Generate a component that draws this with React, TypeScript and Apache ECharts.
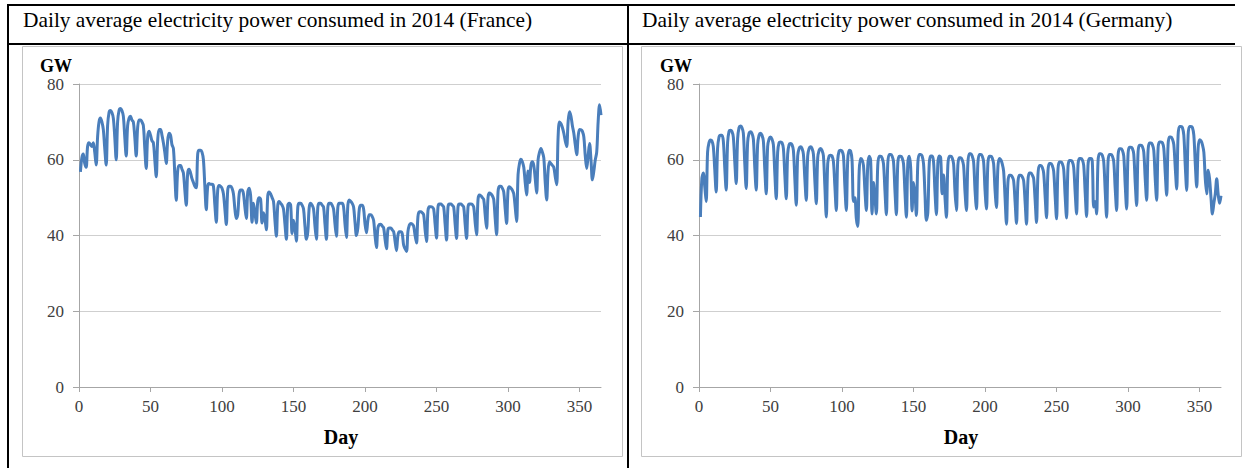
import React, { useEffect, useRef } from "react";
import * as echarts from "echarts";

const FONT = '"Liberation Serif","Times New Roman",serif';

const titles = [
  "Daily average electricity power consumed in 2014 (France)",
  "Daily average electricity power consumed in 2014 (Germany)",
];
const yAxisName = "GW";
const xAxisName = "Day";
const xTicks = [0, 50, 100, 150, 200, 250, 300, 350];
const yTicks = [0, 20, 40, 60, 80];

// Daily values (GW), day 1 = Wed 1 Jan 2014; grouped as Mon..Sun weeks after the first 5 days
const franceValues = [
  56.8, 60.5, 61.5, 59, 58,
  63.5, 64.5, 64, 63.5, 64.5, 62, 58.6,
  66, 70, 71, 70, 68, 63, 58.6,
  69, 72.5, 73, 72.5, 71, 66, 60,
  70, 73, 73.5, 73, 71.5, 66, 61,
  69, 71, 71.5, 70.5, 70, 66, 61,
  68.5, 70.5, 70.5, 70, 69, 63, 57.7,
  66, 67.5, 66.5, 65, 64.5, 60, 55.5,
  65, 68, 68, 66.5, 64.5, 62, 59,
  65, 67, 66.5, 64, 63, 56, 49.3,
  57, 58.5, 58.5, 57.5, 56.5, 52, 48,
  56.5, 57.5, 56.5, 55, 54, 53, 52.6,
  61.5, 62.5, 62.5, 62, 60, 53, 46.8,
  53, 53.7, 53.5, 53.5, 53, 48, 43.5,
  52, 53.2, 53, 52.5, 51, 47, 42.9,
  52, 53, 53, 52.5, 51, 47, 44.5,
  45.5, 51, 52, 52, 51, 47.5, 44.5,
  51.5, 52.5, 50.5, 43.5, 48.5, 46, 43.3,
  49, 50, 49.5, 43.3, 46, 44.5, 41.5,
  50.5, 51.5, 51, 50, 49, 44, 39.8,
  48, 49, 48.5, 48, 47, 43, 39,
  48, 48.5, 48, 40.5, 44, 42, 38.5,
  47.5, 48.5, 48.5, 48, 47, 42.5, 39,
  41, 47.5, 48.5, 48, 47, 42.5, 39,
  47.5, 48.5, 48.5, 48, 47.5, 43, 39,
  47.5, 48.5, 48.5, 48, 47, 43, 39.8,
  47.5, 48.5, 48.5, 48.5, 47.5, 43, 39.5,
  48, 49.4, 49, 48.5, 47.5, 43.5, 40,
  42, 47, 48, 48, 47, 43, 40.7,
  44, 45.5, 45.5, 45, 44, 40, 36.8,
  42, 42.9, 43, 42.5, 42, 39, 36.5,
  41.5, 42, 42, 41.5, 41, 38.5, 36,
  40, 41, 41, 40.5, 37.5, 36.5, 35.8,
  41, 42.8, 43.2, 43, 42.5, 40, 38,
  45, 46.3, 46.3, 46, 45.5, 41.5, 38.4,
  46.5, 47.6, 47.6, 47.5, 47, 43, 39.3,
  47.5, 48.3, 48.3, 48, 47.5, 43, 38.8,
  47.5, 48.3, 48.3, 48, 47.5, 43, 39.2,
  47.5, 48.3, 48.3, 48, 47.5, 43, 39.2,
  47.5, 48.3, 48.3, 48.2, 47.5, 43.5, 40.2,
  49.5, 50.7, 50.5, 50, 49.5, 45.5, 41.9,
  50, 51.2, 51, 50.5, 49.5, 44.5, 40.2,
  51.5, 53, 53, 52.5, 51.5, 47, 43.2,
  52, 52.9, 52.5, 52, 51, 47.5, 43.7,
  56, 59, 60.1, 59.5, 58, 54, 50.7,
  57, 54, 58.5, 59.5, 58.5, 55, 51.2,
  60, 62, 63, 62, 60.5, 54, 49.4,
  57, 59.5, 59, 58.5, 58, 55.5, 53.4,
  66, 70, 69.5, 68.5, 67, 65, 63.5,
  70, 72.7, 71.5, 69, 67, 64, 61.3,
  66, 68, 67.9, 67.5, 66, 61, 57.7,
  61, 64.3, 60, 54.7, 57, 60, 62,
  70, 74.5, 71.8,
];

const germanyValues = [
  44.9, 55, 56.5, 53, 49,
  62, 64.5, 65.2, 65, 63.5, 57.5, 51.5,
  63, 66, 66.5, 66.5, 65, 58, 52,
  64.5, 67.5, 67.8, 67.5, 66, 59.5, 53.7,
  65.5, 68.5, 68.9, 68.5, 67, 59, 52.4,
  64.5, 67, 67.4, 67, 65.5, 58, 52,
  64, 66.5, 67, 66.5, 65, 57.5, 51,
  63.5, 65.5, 66, 65.5, 64, 56.5, 49.7,
  62, 64.5, 64.7, 64.5, 63, 56, 49.7,
  61.5, 64, 64.3, 64, 62.5, 55, 48,
  61, 63, 63.4, 63, 61.5, 55, 49.3,
  61, 63, 63.4, 63, 61.5, 54.5, 48.4,
  60.5, 62.5, 63, 62.5, 61, 53, 44.9,
  59, 61, 61.2, 61, 59.5, 53, 46.6,
  60, 62.3, 62.5, 62.3, 61, 53, 46.6,
  60, 62.5, 62.3, 60, 49, 50, 44.5,
  42.4, 57, 60.3, 60, 58.5, 52, 46.6,
  58.5, 60.9, 60, 45.7, 54, 50, 45.7,
  58.5, 60.9, 60.9, 60.5, 59, 52, 45.5,
  59, 61.4, 61.4, 61, 59.5, 52, 45.5,
  59, 60.9, 60.9, 60.5, 59, 51.5, 44.8,
  59, 60.9, 58, 46.5, 54, 51, 45.3,
  59, 61.4, 61.4, 61, 59, 51, 44,
  46, 59, 61, 61, 59.5, 51.5, 45.5,
  59, 61, 60.5, 51, 56, 50, 44.8,
  58.5, 60.9, 60.9, 60.5, 59, 51.5, 46.6,
  58.5, 60.5, 60.5, 60, 58.5, 51.5, 46.6,
  59, 61.6, 61.6, 61, 59.5, 52, 47,
  59, 61.4, 61.4, 61, 59.5, 52, 47,
  59, 60.9, 60.9, 60.5, 59, 52, 47.4,
  58, 60.3, 60, 59, 57, 50, 43,
  54, 55.9, 55.9, 55.5, 54.5, 49, 43.2,
  54, 55.9, 55.9, 55.5, 54.5, 49, 43,
  54.5, 56.5, 56.5, 56, 55, 49.5, 43.4,
  56, 58.5, 58.5, 58, 56.5, 50.5, 44.7,
  57, 59, 59, 58.5, 57, 50.5, 44.4,
  57.5, 59.4, 59.4, 59, 57.5, 50.5, 44.6,
  58, 59.8, 59.8, 59.5, 58, 51.5, 45.7,
  58.5, 60.3, 60.3, 60, 58.5, 51.5, 45,
  58.5, 60.3, 60.3, 59.5, 47.5, 49, 45.7,
  59.5, 61.6, 61.6, 61.2, 59.5, 52, 44.8,
  59.5, 61.4, 61.4, 61, 59.5, 52.5, 46.6,
  61, 62.9, 62.9, 62.5, 61, 53.5, 47,
  61.5, 63.3, 63.3, 63, 61.5, 54, 47.9,
  62, 63.8, 63.8, 63.5, 62, 55, 49.3,
  62.5, 64.4, 64.4, 64, 62.5, 55, 49.3,
  63, 64.7, 64.7, 64.5, 63, 56.5, 50.6,
  64, 66, 66, 65.5, 64, 58, 52.3,
  66.5, 68.8, 68.8, 68.5, 66.5, 58.5, 51.9,
  66.5, 68.8, 68.8, 68.5, 66.5, 59, 52.8,
  63, 65.3, 65, 64, 62, 55, 51,
  57.2, 55, 50, 45.7, 48.5, 51, 55,
  51, 48.5, 50.5,
];

const LINE_COLOR = "#4a7ebb";
const AXIS_COLOR = "#a6a6a6";
const GRID_COLOR = "#cfcfcf";
const LABEL_COLOR = "#404040";

export default function App() {
  const ref = useRef<HTMLDivElement>(null);
  useEffect(() => {
    if (!ref.current) return;
    const chart = echarts.init(ref.current, undefined, { renderer: "svg" });
    const panels = [
      { left: 79, frameX: 22.5, titleX: 23, values: franceValues },
      { left: 699, frameX: 641.5, titleX: 642, values: germanyValues },
    ];
    const plotW = 522;
    const graphic: any[] = [];
    const black = "#000";
    graphic.push(
      { type: "rect", shape: { x: 7, y: 4, width: 1228, height: 2 }, style: { fill: black }, silent: true },
      { type: "rect", shape: { x: 7, y: 43, width: 1228, height: 2 }, style: { fill: black }, silent: true },
      { type: "rect", shape: { x: 7, y: 4, width: 2, height: 464 }, style: { fill: black }, silent: true },
      { type: "rect", shape: { x: 627, y: 4, width: 2, height: 464 }, style: { fill: black }, silent: true }
    );
    panels.forEach((p, i) => {
      graphic.push(
        {
          type: "rect",
          shape: { x: p.frameX, y: 46.5, width: 600, height: 410 },
          style: { fill: "#fff", stroke: "#c4c4c4", lineWidth: 1 },
          z: -10,
          silent: true,
        },
        {
          type: "text",
          x: p.titleX,
          y: 20,
          style: {
            text: titles[i],
            font: `21.4px ${FONT}`,
            fill: "#000",
            textAlign: "left",
            textVerticalAlign: "middle",
          },
          silent: true,
        },
        {
          type: "text",
          x: p.left - 39,
          y: 66,
          style: {
            text: yAxisName,
            font: `bold 18px ${FONT}`,
            fill: "#000",
            textAlign: "left",
            textVerticalAlign: "middle",
          },
          silent: true,
        },
        {
          type: "text",
          x: p.left + 262,
          y: 437,
          style: {
            text: xAxisName,
            font: `bold 20px ${FONT}`,
            fill: "#000",
            textAlign: "center",
            textVerticalAlign: "middle",
          },
          silent: true,
        }
      );
    });

    const option: any = {
      animation: false,
      backgroundColor: "#fff",
      graphic,
      grid: panels.map((p) => ({ left: p.left, top: 84, width: plotW, height: 303, containLabel: false })),
      xAxis: panels.map((_, i) => ({
        type: "value",
        gridIndex: i,
        min: 0,
        max: 365,
        interval: 50,
        axisLine: { show: true, lineStyle: { color: AXIS_COLOR, width: 1 } },
        axisTick: { show: true, length: 5, lineStyle: { color: AXIS_COLOR }, customValues: xTicks },
        axisLabel: {
          customValues: xTicks,
          fontFamily: FONT,
          fontSize: 17,
          color: LABEL_COLOR,
          margin: 11,
        },
        splitLine: { show: false },
      })),
      yAxis: panels.map((_, i) => ({
        type: "value",
        gridIndex: i,
        min: 0,
        max: 80,
        interval: 20,
        axisLine: { show: true, lineStyle: { color: AXIS_COLOR, width: 1 } },
        axisTick: { show: true, length: 6, lineStyle: { color: AXIS_COLOR }, customValues: yTicks },
        axisLabel: {
          fontFamily: FONT,
          fontSize: 17,
          color: LABEL_COLOR,
          margin: 15,
        },
        splitLine: { show: true, lineStyle: { color: GRID_COLOR, width: 1 } },
      })),
      series: panels.map((p, i) => ({
        type: "line",
        xAxisIndex: i,
        yAxisIndex: i,
        data: p.values.map((v, d) => [d + 1, v]),
        showSymbol: false,
        smooth: 0.35,
        lineStyle: { color: LINE_COLOR, width: 3 },
        itemStyle: { color: LINE_COLOR },
      })),
    };
    chart.setOption(option);
    return () => chart.dispose();
  }, []);
  return (
    <div
      ref={ref}
      style={{ position: "absolute", left: 0, top: 0, width: 1245, height: 468, background: "#fff" }}
    />
  );
}
